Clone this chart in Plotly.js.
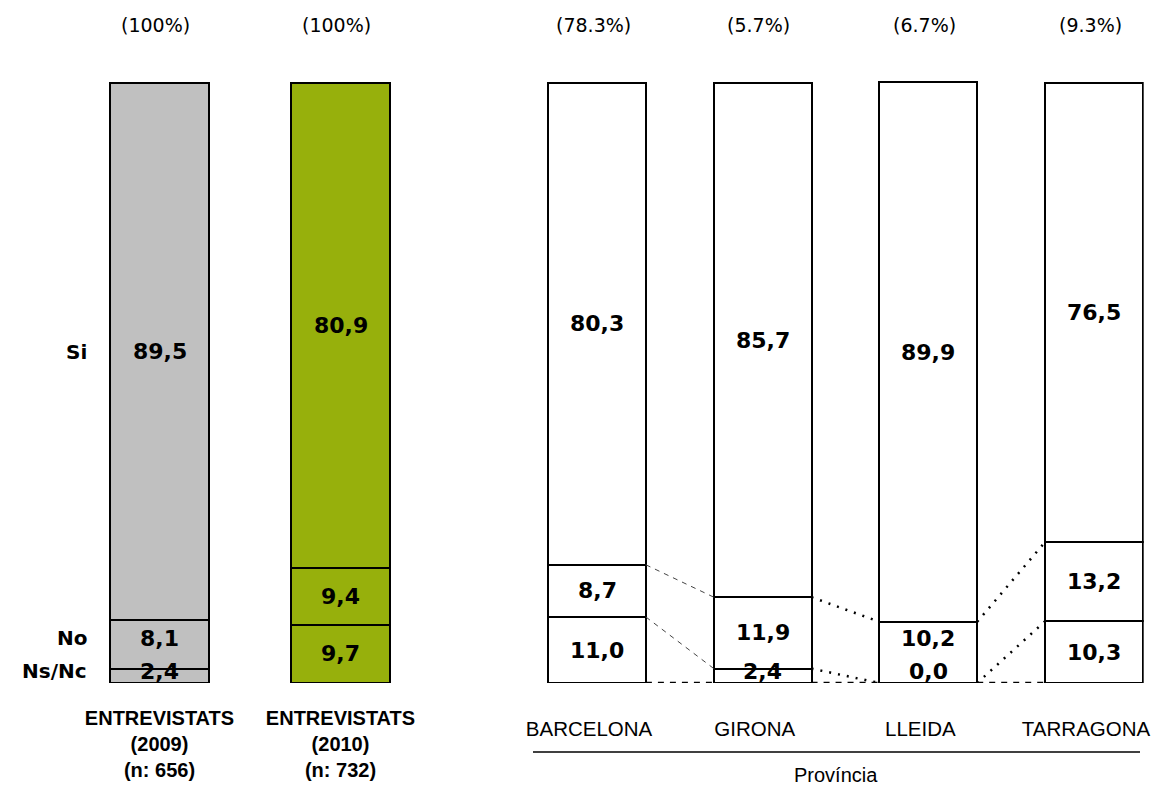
<!DOCTYPE html>
<html><head><meta charset="utf-8">
<script src="https://cdn.plot.ly/plotly-3.0.1.min.js"></script>
<style>html,body{margin:0;padding:0;background:#fff}</style>
</head><body>
<div id="chart" style="width:1153px;height:786px"></div>
<script>
// ---- data ----
var totalCats = ['ENTREVISTATS<br>(2009)<br>(n: 656)', 'ENTREVISTATS<br>(2010)<br>(n: 732)'];
var totalShares = ['(100%)', '(100%)'];
var totalNsNc = [2.4, 9.7];
var totalNo = [8.1, 9.4];
var totalSi = [89.5, 80.9];
var totalColors = ['#c0c0c0', '#97b00c'];

var provCats = ['BARCELONA', 'GIRONA', 'LLEIDA', 'TARRAGONA'];
var provShares = ['(78.3%)', '(5.7%)', '(6.7%)', '(9.3%)'];
var provNsNc = [11.0, 2.4, 0.0, 10.3];
var provNo = [8.7, 11.9, 10.2, 13.2];
var provSi = [80.3, 85.7, 89.9, 76.5];

var seriesNames = ['Ns/Nc', 'No', 'Si'];
var axisTitle = 'Província';

// ---- layout helpers ----
var W = 1153, H = 786;
var plotTop = 83, plotBottom = 683;
var yMax = 101;
var pxPerUnit = (plotBottom - plotTop) / 100;
var yDom = [1 - plotBottom / H, 1 - (plotBottom - yMax * pxPerUnit) / H];
var leftDom = [69 / W, 431 / W];
var rightDom = [514.2 / W, 1143.7 / W];
var leftWidth = 0.547, rightWidth = 0.59;
var fmt = function (v) { return v.toFixed(1).replace('.', ','); };
var valueFont = {family: 'DejaVu Sans', size: 22, color: '#000'};
var shareFont = {family: 'DejaVu Sans', size: 19, color: '#000'};

var traces = [];
var annotations = [];
var shapes = [];

function labelPositions(series, i) {
  var base = 0, prev = -100, out = [];
  series.forEach(function (vals, s) {
    var v = vals[i];
    var y = base + v / 2;
    if (s === 0) y = Math.max(y, 2.0);
    else y = Math.max(y, prev + 5.5);
    prev = y;
    out.push(y);
    base += v;
  });
  return out;
}

function addGroup(cats, series, colors, xa, width) {
  series.forEach(function (vals, s) {
    traces.push({
      type: 'bar', x: cats, y: vals, xaxis: xa, yaxis: 'y', cliponaxis: false,
      name: seriesNames[s], width: width, hoverinfo: 'skip',
      marker: {color: colors, line: {color: '#000', width: 2}}
    });
  });
  cats.forEach(function (c, i) {
    var ys = labelPositions(series, i);
    series.forEach(function (vals, s) {
      annotations.push({
        x: c, y: ys[s], xref: xa, yref: 'y', text: '<b>' + fmt(vals[i]) + '</b>',
        showarrow: false, font: valueFont, yanchor: 'middle'
      });
    });
  });
}

addGroup(totalCats, [totalNsNc, totalNo, totalSi], totalColors, 'x', leftWidth);
addGroup(provCats, [provNsNc, provNo, provSi],
  provCats.map(function () { return '#ffffff'; }), 'x2', rightWidth);

// share labels above bars
totalCats.forEach(function (c, i) {
  annotations.push({x: c, xref: 'x', xshift: -4, y: 1 - 25 / H, yref: 'paper', yanchor: 'middle',
    text: totalShares[i], showarrow: false, font: shareFont});
});
provCats.forEach(function (c, i) {
  annotations.push({x: c, xref: 'x2', xshift: -4, y: 1 - 25 / H, yref: 'paper', yanchor: 'middle',
    text: provShares[i], showarrow: false, font: shareFont});
});

// series labels at the left, aligned with first bar labels
(function () {
  var ys = labelPositions([totalNsNc, totalNo, totalSi], 0);
  ys.forEach(function (y, s) {
    annotations.push({x: 89 / W, xref: 'paper', xanchor: 'right', y: y, yref: 'y', yanchor: 'middle',
      text: '<b>' + seriesNames[s] + '</b>', showarrow: false,
      font: {family: 'DejaVu Sans', size: 20, color: '#000'}});
  });
})();

// connector lines between province bars
var provSeries = [provNsNc, provNo];
var levels = [provCats.map(function () { return 0; })];
var cum = provCats.map(function () { return 0; });
provSeries.forEach(function (vals) {
  cum = cum.map(function (c, i) { return c + vals[i]; });
  levels.push(cum.slice());
});
levels.forEach(function (lv, k) {
  for (var i = 0; i < provCats.length - 1; i++) {
    var thin = (k > 0 && i === 0);
    shapes.push({type: 'line', xref: 'x2', yref: 'y',
      x0: i + rightWidth / 2, x1: i + 1 - rightWidth / 2, y0: lv[i], y1: lv[i + 1],
      line: {color: thin ? '#444' : '#000', width: thin ? 1 : 2.5,
        dash: k === 0 ? '6px,6px' : (thin ? '5px,5px' : '2px,7px')}});
  }
});

// axis rule under province labels
shapes.push({type: 'line', xref: 'paper', yref: 'paper', x0: 533 / W, x1: 1140 / W,
  y0: 1 - 752 / H, y1: 1 - 752 / H, line: {color: '#000', width: 1.5}});
annotations.push({x: 836 / W, xref: 'paper', xanchor: 'center', y: 1 - 775 / H, yref: 'paper',
  yanchor: 'middle', text: axisTitle, showarrow: false,
  font: {family: 'Liberation Sans', size: 20, color: '#000'}});

var layout = {
  width: W, height: H, barmode: 'stack', showlegend: false,
  margin: {l: 0, r: 0, t: 0, b: 0}, paper_bgcolor: '#fff', plot_bgcolor: 'rgba(0,0,0,0)',
  xaxis: {domain: leftDom, anchor: 'y', type: 'category', range: [-0.5, 1.5],
    showline: false, showgrid: false, zeroline: false, ticks: '', ticklabelstandoff: 21,
    tickfont: {family: 'Liberation Sans', size: 20, color: '#000'}, automargin: false,
    tickmode: 'array', tickvals: totalCats,
    ticktext: totalCats.map(function (c) { return '<b>' + c + '</b>'; })},
  xaxis2: {domain: rightDom, anchor: 'y', type: 'category', range: [-0.5, 3.3],
    showline: false, showgrid: false, zeroline: false, ticks: '', ticklabelstandoff: 31,
    ticklabelshift: -8,
    tickfont: {family: 'Liberation Sans', size: 20.5, color: '#000'}, automargin: false},
  yaxis: {domain: yDom, range: [0, yMax], visible: false, fixedrange: true},
  annotations: annotations, shapes: shapes
};

Plotly.newPlot('chart', traces, layout, {displayModeBar: false, staticPlot: true});
</script>
</body></html>
